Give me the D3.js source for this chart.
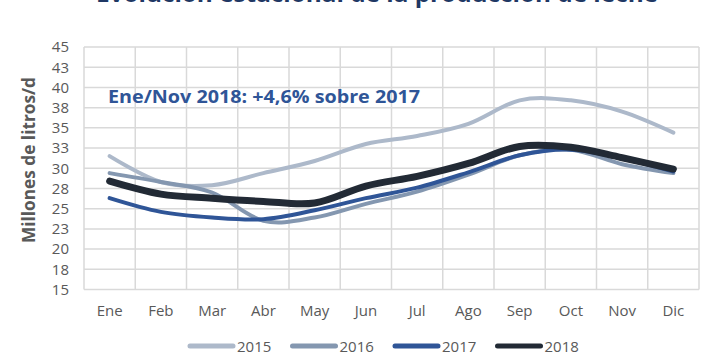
<!DOCTYPE html>
<html>
<head>
<meta charset="utf-8">
<script src="https://cdn.jsdelivr.net/npm/d3@7"></script>
<style>
  body { margin: 0; background: #fff; }
  text { font-family: "Open Sans", "Noto Sans", sans-serif; }
</style>
</head>
<body>
<svg id="chart" width="728" height="362"></svg>
<script>
// months on the x axis
var months = ["Ene", "Feb", "Mar", "Abr", "May", "Jun", "Jul", "Ago", "Sep", "Oct", "Nov", "Dic"];

// millones de litros / dia
var v2015 = [31.5, 28.3, 27.9, 29.4, 30.9, 33.0, 34.0, 35.5, 38.4, 38.4, 37.0, 34.4];
var v2016 = [29.4, 28.3, 27.0, 23.5, 23.9, 25.6, 27.1, 29.2, 31.6, 32.3, 30.5, 29.4];
var v2017 = [26.3, 24.6, 23.9, 23.7, 24.8, 26.3, 27.6, 29.5, 31.6, 32.3, 31.2, 29.6];
var v2018 = [28.4, 26.8, 26.3, 25.9, 25.7, 27.8, 29.0, 30.6, 32.7, 32.6, 31.3, 29.9];

var yTicks = [15, 17.5, 20, 22.5, 25, 27.5, 30, 32.5, 35, 37.5, 40, 42.5, 45];

var series = [
  { name: "2015", values: v2015, color: "#adb9ca", width: 4 },
  { name: "2016", values: v2016, color: "#8497b0", width: 4 },
  { name: "2017", values: v2017, color: "#2f5597", width: 4 },
  { name: "2018", values: v2018, color: "#222a35", width: 7 }
];

var svg = d3.select("#chart");
var plotL = 84, plotR = 699, plotT = 47, plotB = 289.5;

var x = d3.scaleBand().domain(months).range([plotL, plotR]);
var y = d3.scaleLinear().domain([15, 45]).range([plotB, plotT]);

// title, mostly cut off at the top edge (as in the source image)
svg.append("text")
  .attr("x", 377).attr("y", 2)
  .attr("text-anchor", "middle")
  .attr("font-size", 23).attr("font-weight", "bold")
  .attr("fill", "#1f3864")
  .attr("textLength", 562).attr("lengthAdjust", "spacingAndGlyphs")
  .text("Evolución estacional de la producción de leche");

// grid
var grid = svg.append("g");
grid.selectAll(".hg").data(yTicks).enter().append("line")
  .attr("x1", plotL).attr("x2", plotR)
  .attr("y1", d => y(d)).attr("y2", d => y(d))
  .attr("stroke", "#d9d9d9").attr("stroke-width", 1.5);
var vlines = months.map(m => x(m)).concat([plotR]);
grid.selectAll(".vg").data(vlines).enter().append("line")
  .attr("x1", d => d).attr("x2", d => d)
  .attr("y1", plotT).attr("y2", plotB)
  .attr("stroke", "#d9d9d9").attr("stroke-width", 1.5);

// y axis labels
var yAxis = d3.axisLeft(y).tickValues(yTicks).tickSize(0).tickPadding(0)
  .tickFormat(d => Math.round(d));
svg.append("g")
  .attr("transform", "translate(69,0)")
  .call(yAxis)
  .call(g => g.select(".domain").remove())
  .selectAll("text")
  .attr("font-family", "'Open Sans', sans-serif")
  .attr("font-size", 15).attr("fill", "#595959");

// x axis labels
var xAxis = d3.axisBottom(x).tickSize(0).tickPadding(0);
svg.append("g")
  .attr("transform", "translate(0,305)")
  .call(xAxis)
  .call(g => g.select(".domain").remove())
  .selectAll("text")
  .attr("font-family", "'Open Sans', sans-serif")
  .attr("font-size", 15).attr("fill", "#595959");

// y title
svg.append("text")
  .attr("transform", "translate(35,160) rotate(-90)")
  .attr("text-anchor", "middle")
  .attr("font-size", 17).attr("font-weight", "bold")
  .attr("fill", "#595959")
  .attr("textLength", 166).attr("lengthAdjust", "spacingAndGlyphs")
  .text("Millones de litros/d");

// lines
var line = d3.line()
  .x((d, i) => x(months[i]) + x.bandwidth() / 2)
  .y(d => y(d))
  .curve(d3.curveCardinal.tension(0));

svg.append("g").selectAll("path").data(series).enter().append("path")
  .attr("d", d => line(d.values))
  .attr("fill", "none")
  .attr("stroke", d => d.color)
  .attr("stroke-width", d => d.width)
  .attr("stroke-linecap", "round")
  .attr("stroke-linejoin", "round");

// annotation
svg.append("text")
  .attr("x", 108).attr("y", 103)
  .attr("font-size", 18).attr("font-weight", "bold")
  .attr("fill", "#2f5597")
  .attr("textLength", 312).attr("lengthAdjust", "spacingAndGlyphs")
  .text("Ene/Nov 2018: +4,6% sobre 2017");

// legend
var legend = svg.append("g").selectAll("g").data(series).enter().append("g")
  .attr("transform", (d, i) => "translate(" + (190 + i * 102.5) + ",346)");
legend.append("line")
  .attr("x1", 0).attr("x2", 43)
  .attr("stroke", d => d.color).attr("stroke-width", 5)
  .attr("stroke-linecap", "round");
legend.append("text")
  .attr("x", 47).attr("y", 6)
  .attr("font-size", 15).attr("fill", "#595959")
  .text(d => d.name);
</script>
</body>
</html>
